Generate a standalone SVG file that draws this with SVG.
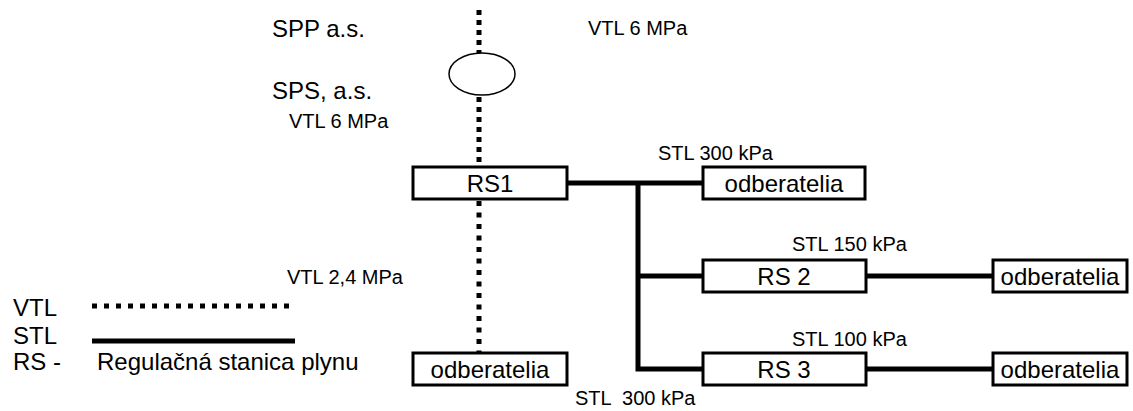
<svg xmlns="http://www.w3.org/2000/svg" width="1133" height="411" viewBox="0 0 1133 411">
<style>
text{font-family:"Liberation Sans",Arial,sans-serif;fill:#000}
.big{font-size:24px}
.sm{font-size:20px}
.box rect{fill:#fff;stroke:#000;stroke-width:3}
.box text{font-size:24px;text-anchor:middle}
.stl{stroke:#000;stroke-width:5;fill:none}
.vtl{stroke:#000;stroke-width:5;fill:none;stroke-dasharray:5 5}
</style>
<rect width="1133" height="411" fill="#fff"/>
<g id="connectors">
<line class="vtl" x1="479" y1="10" x2="479" y2="53"/>
<line class="vtl" x1="479" y1="97" x2="479" y2="167"/>
<line class="vtl" x1="479" y1="201" x2="479" y2="353" style="stroke-dasharray:5 6.5"/>
<line class="stl" x1="567" y1="183" x2="705" y2="183"/>
<polyline class="stl" points="638,183 638,369 705,369"/>
<line class="stl" x1="638" y1="276" x2="705" y2="276"/>
<line class="stl" x1="866" y1="276" x2="995" y2="276"/>
<line class="stl" x1="866" y1="369" x2="995" y2="369"/>
</g>
<g id="spp">
<ellipse cx="482" cy="74" rx="33" ry="21" fill="#fff" stroke="#000" stroke-width="1.5"/>
</g>
<g id="rs1" class="box"><rect x="413" y="167" width="154" height="32"/><text x="490" y="192">RS1</text></g>
<g id="odb1" class="box"><rect x="703" y="167" width="162" height="32"/><text x="784" y="192">odberatelia</text></g>
<g id="rs2" class="box"><rect x="703" y="260" width="163" height="32"/><text x="784" y="285">RS 2</text></g>
<g id="odb2" class="box"><rect x="993" y="260" width="134" height="32"/><text x="1060" y="285">odberatelia</text></g>
<g id="rs3" class="box"><rect x="703" y="353" width="163" height="32"/><text x="784" y="378">RS 3</text></g>
<g id="odb3" class="box"><rect x="993" y="353" width="134" height="32"/><text x="1060" y="378">odberatelia</text></g>
<g id="odb4" class="box"><rect x="413" y="353" width="154" height="32"/><text x="490" y="378">odberatelia</text></g>
<g id="labels">
<text class="big" x="272" y="37">SPP a.s.</text>
<text class="big" x="272" y="99">SPS, a.s.</text>
<text class="sm" x="588" y="35">VTL 6 MPa</text>
<text class="sm" x="289" y="128">VTL 6 MPa</text>
<text class="sm" x="658" y="160">STL 300 kPa</text>
<text class="sm" x="792" y="251">STL 150 kPa</text>
<text class="sm" x="287" y="284">VTL 2,4 MPa</text>
<text class="sm" x="792" y="346">STL 100 kPa</text>
<text class="sm" x="575" y="405" xml:space="preserve">STL  300 kPa</text>
</g>
<g id="legend">
<text class="big" x="13" y="316">VTL</text>
<line class="vtl" x1="92" y1="306" x2="295" y2="306" style="stroke-dasharray:5 7"/>
<text class="big" x="13" y="344">STL</text>
<line class="stl" x1="92" y1="341" x2="295" y2="341"/>
<text class="big" x="13" y="370">RS -</text>
<text class="big" x="97" y="370">Regulačná stanica plynu</text>
</g>
</svg>
